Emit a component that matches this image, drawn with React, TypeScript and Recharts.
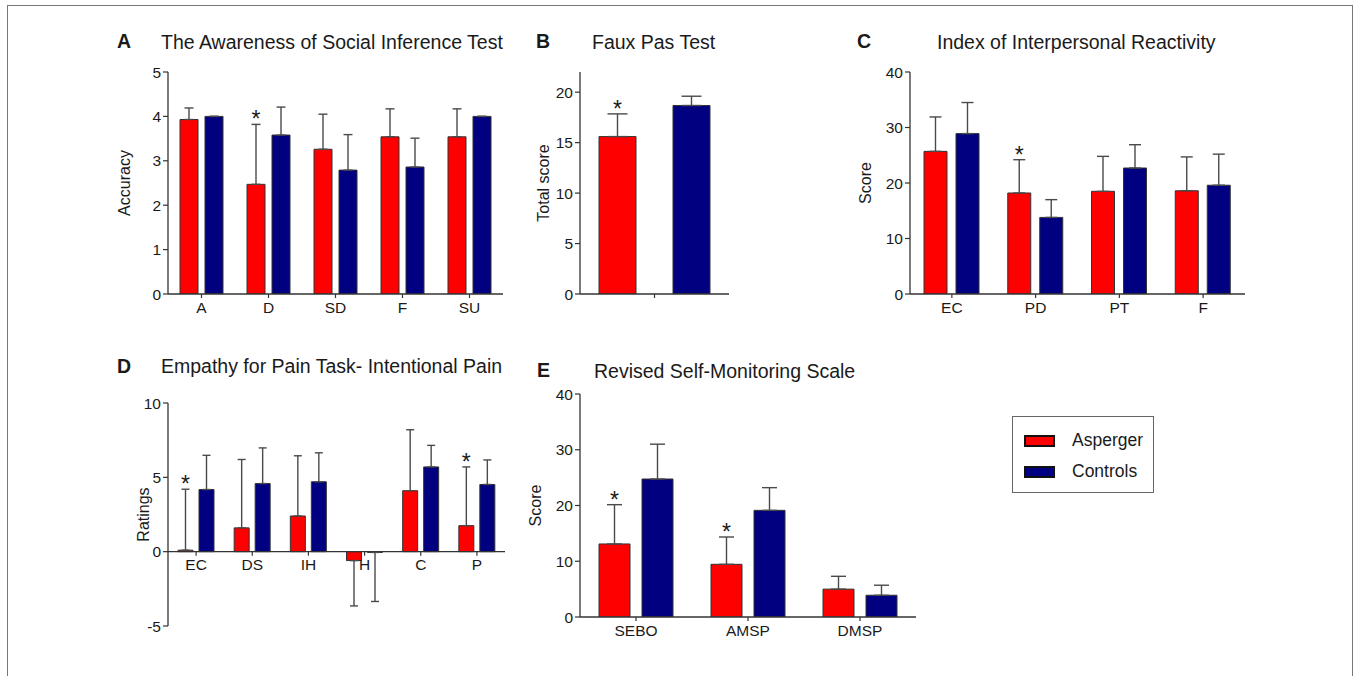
/** Five-panel questionnaire figure — Asperger vs Controls, mean with one-sided SD whiskers */
import { BarChart, Bar, XAxis, YAxis, ErrorBar, LabelList, ReferenceLine, Legend } from 'recharts'

const RED = '#ff0000'
const BLUE = '#000080'
const EDGE = '#333333'
const WHISKER = '#4a4a4a'
const INK = '#1a1a1a'
const FONT = '"Liberation Sans", Arial, Helvetica, sans-serif'

// A — The Awareness of Social Inference Test
const tasitCats = ['A', 'D', 'SD', 'F', 'SU']
const tasitAsp = [3.93, 2.47, 3.26, 3.54, 3.54]
const tasitAspSd = [0.26, 1.35, 0.79, 0.63, 0.63]
const tasitCtl = [4.0, 3.58, 2.79, 2.86, 4.0]
const tasitCtlSd = [0, 0.63, 0.8, 0.65, 0]
const tasitStars = [false, true, false, false, false]
const tasitTicks = [0, 1, 2, 3, 4, 5]

// B — Faux Pas Test
const fauxCats = ['']
const fauxAsp = [15.6]
const fauxAspSd = [2.25]
const fauxCtl = [18.68]
const fauxCtlSd = [0.92]
const fauxStars = [true]
const fauxTicks = [0, 5, 10, 15, 20]

// C — Index of Interpersonal Reactivity
const iriCats = ['EC', 'PD', 'PT', 'F']
const iriAsp = [25.7, 18.2, 18.5, 18.6]
const iriAspSd = [6.2, 6.0, 6.3, 6.1]
const iriCtl = [28.9, 13.8, 22.7, 19.6]
const iriCtlSd = [5.6, 3.2, 4.2, 5.6]
const iriStars = [false, true, false, false]
const iriTicks = [0, 10, 20, 30, 40]

// D — Empathy for Pain Task, intentional pain
const painCats = ['EC', 'DS', 'IH', 'H', 'C', 'P']
const painAsp = [0.1, 1.6, 2.4, -0.6, 4.1, 1.75]
const painAspSd = [4.1, 4.6, 4.05, 3.05, 4.1, 3.95]
const painCtl = [4.18, 4.58, 4.7, -0.05, 5.7, 4.52]
const painCtlSd = [2.3, 2.4, 1.95, 3.3, 1.45, 1.65]
const painStars = [true, false, false, false, false, true]
const painTicks = [-5, 0, 5, 10]

// E — Revised Self-Monitoring Scale
const rsmsCats = ['SEBO', 'AMSP', 'DMSP']
const rsmsAsp = [13.1, 9.45, 5.0]
const rsmsAspSd = [7.05, 4.9, 2.3]
const rsmsCtl = [24.75, 19.13, 3.9]
const rsmsCtlSd = [6.25, 4.07, 1.8]
const rsmsStars = [true, true, false]
const rsmsTicks = [0, 10, 20, 30, 40]

// whiskers go away from zero only
function whisker(mean: number, sd: number): [number, number] {
  return mean < 0 ? [sd, 0] : [0, sd]
}

function buildRows(cats: string[], asp: number[], aspSd: number[], ctl: number[], ctlSd: number[], stars: boolean[]) {
  return cats.map((cat, i) => ({
    cat,
    asp: asp[i],
    ctl: ctl[i],
    aspErr: whisker(asp[i], aspSd[i]),
    ctlErr: whisker(ctl[i], ctlSd[i]),
    star: stars[i] ? aspSd[i] : null,
  }))
}

const ML = 10
const YW = 55
const MT = 14
const MR = 14
const XH = 30
const MB = 6

const tickStyle = { fill: INK, fontSize: 15.5, fontFamily: FONT }

// eslint-disable-next-line @typescript-eslint/no-explicit-any
function Star(props: any) {
  const { x, y, width, value } = props
  if (value == null) return null
  return (
    <text x={x + width / 2} y={y + 3} textAnchor="middle" fontSize={23} fontFamily={FONT} fill={INK}>
      *
    </text>
  )
}

// category labels sitting on the zero line (panel D)
// eslint-disable-next-line @typescript-eslint/no-explicit-any
function ZeroTick(props: any) {
  const { x, payload, zeroY } = props
  return (
    <g>
      <line x1={x} x2={x} y1={zeroY} y2={zeroY + 4} stroke={EDGE} strokeWidth={1.2} />
      <text x={x} y={zeroY + 7} dy="0.71em" textAnchor="middle" {...tickStyle}>
        {payload.value}
      </text>
    </g>
  )
}

// eslint-disable-next-line @typescript-eslint/no-explicit-any
function LegendBox(props: any) {
  const items = (props.payload ?? []).filter((p: { type?: string }) => p.type !== 'none')
  return (
    <div style={{
      width: 142,
      height: 77,
      boxSizing: 'border-box',
      border: '1.5px solid #666',
      background: '#fff',
      paddingTop: 8,
      fontFamily: FONT,
    }}>
      {items.map((it: { value: string; color: string }) => (
        <div key={it.value} style={{ display: 'flex', alignItems: 'center', height: 31 }}>
          <span style={{
            display: 'inline-block',
            marginLeft: 11,
            width: 31,
            height: 12,
            boxSizing: 'border-box',
            background: it.color,
            border: '2px solid #111',
          }} />
          <span style={{ marginLeft: 17, fontSize: 17.5, color: INK }}>{it.value}</span>
        </div>
      ))}
    </div>
  )
}

type Plot = { x1: number; y1: number; x2: number; y2: number }

interface PanelProps {
  rows: ReturnType<typeof buildRows>
  plot: Plot
  domain: [number, number]
  ticks: number[]
  barSize: number
  barGap: number
  cap: number
  yLabel: string
  yLabelGap: number
  zeroAxis?: boolean
  extraRight?: number
  withLegend?: boolean
}

function Panel(p: PanelProps) {
  const right = MR + (p.extraRight ?? 0)
  const plotH = p.plot.y2 - p.plot.y1
  const w = ML + YW + (p.plot.x2 - p.plot.x1) + right
  const h = MT + plotH + XH + MB
  const zeroY = MT + (p.domain[1] / (p.domain[1] - p.domain[0])) * plotH

  return (
    <div style={{ position: 'absolute', left: p.plot.x1 - YW - ML, top: p.plot.y1 - MT }}>
      <BarChart
        width={w}
        height={h}
        data={p.rows}
        margin={{ top: MT, right, bottom: MB, left: ML }}
        barSize={p.barSize}
        barGap={p.barGap}
      >
        {p.zeroAxis ? (
          <XAxis
            dataKey="cat"
            height={XH}
            interval={0}
            axisLine={false}
            tickLine={false}
            tick={<ZeroTick zeroY={zeroY} />}
          />
        ) : (
          <XAxis
            dataKey="cat"
            height={XH}
            interval={0}
            tickSize={4}
            tickMargin={4}
            axisLine={{ stroke: EDGE, strokeWidth: 1.3 }}
            tickLine={{ stroke: EDGE, strokeWidth: 1.2 }}
            tick={tickStyle}
          />
        )}
        <YAxis
          type="number"
          width={YW}
          domain={p.domain}
          ticks={p.ticks}
          interval={0}
          allowDataOverflow
          tickSize={5}
          tickMargin={2}
          axisLine={{ stroke: EDGE, strokeWidth: 1.3 }}
          tickLine={{ stroke: EDGE, strokeWidth: 1.2 }}
          tick={tickStyle}
          label={{
            value: p.yLabel,
            angle: -90,
            position: 'insideLeft',
            offset: YW - p.yLabelGap,
            style: { textAnchor: 'middle', fill: INK, fontSize: 16, fontFamily: FONT },
          }}
        />
        {p.zeroAxis && <ReferenceLine y={0} stroke={EDGE} strokeWidth={1.3} />}
        <Bar dataKey="asp" name="Asperger" stackId="asp" fill={RED} stroke={EDGE} strokeWidth={1} isAnimationActive={false}>
          <ErrorBar dataKey="aspErr" width={p.cap} stroke={WHISKER} strokeWidth={1.4} direction="y" />
        </Bar>
        <Bar dataKey="star" stackId="asp" fill="transparent" stroke="none" legendType="none" isAnimationActive={false}>
          <LabelList dataKey="star" content={<Star />} />
        </Bar>
        <Bar dataKey="ctl" name="Controls" fill={BLUE} stroke={EDGE} strokeWidth={1} isAnimationActive={false}>
          <ErrorBar dataKey="ctlErr" width={p.cap} stroke={WHISKER} strokeWidth={1.4} direction="y" />
        </Bar>
        {p.withLegend && (
          <Legend
            layout="vertical"
            align="center"
            verticalAlign="middle"
            content={<LegendBox />}
            wrapperStyle={{ left: 497, top: 36, width: 142, height: 77 }}
          />
        )}
      </BarChart>
    </div>
  )
}

function Heading({ letter, title, lx, tx, top }: { letter: string; title: string; lx: number; tx: number; top: number }) {
  const base = { position: 'absolute' as const, top, fontFamily: FONT, color: INK, lineHeight: '19px', fontSize: 19.5, whiteSpace: 'nowrap' as const }
  return (
    <>
      <div style={{ ...base, left: lx, top: top - 0.5, fontWeight: 700 }}>{letter}</div>
      <div style={{ ...base, left: tx }}>{title}</div>
    </>
  )
}

export default function App() {
  return (
    <div style={{ position: 'absolute', left: 0, top: 0, width: 1356, height: 676, overflow: 'hidden', background: '#fff' }}>
      <div style={{ position: 'absolute', left: 7, top: 5, width: 1346, height: 720, border: '1.5px solid #777', boxSizing: 'border-box' }} />

      <Heading letter="A" title="The Awareness of Social Inference Test" lx={117} tx={161} top={32.5} />
      <Heading letter="B" title="Faux Pas Test" lx={536} tx={592} top={32.5} />
      <Heading letter="C" title="Index of Interpersonal Reactivity" lx={857} tx={937} top={32.5} />
      <Heading letter="D" title="Empathy for Pain Task- Intentional Pain" lx={117} tx={161} top={357} />
      <Heading letter="E" title="Revised Self-Monitoring Scale" lx={537} tx={594} top={361.5} />

      <Panel
        rows={buildRows(tasitCats, tasitAsp, tasitAspSd, tasitCtl, tasitCtlSd, tasitStars)}
        plot={{ x1: 168, y1: 72, x2: 503, y2: 294 }}
        domain={[0, 5]}
        ticks={tasitTicks}
        barSize={18}
        barGap={7}
        cap={4.5}
        yLabel="Accuracy"
        yLabelGap={43.5}
      />
      <Panel
        rows={buildRows(fauxCats, fauxAsp, fauxAspSd, fauxCtl, fauxCtlSd, fauxStars)}
        plot={{ x1: 580, y1: 72, x2: 729, y2: 294 }}
        domain={[0, 22]}
        ticks={fauxTicks}
        barSize={37}
        barGap={37}
        cap={10}
        yLabel="Total score"
        yLabelGap={37}
      />
      <Panel
        rows={buildRows(iriCats, iriAsp, iriAspSd, iriCtl, iriCtlSd, iriStars)}
        plot={{ x1: 910, y1: 72, x2: 1245, y2: 294 }}
        domain={[0, 40]}
        ticks={iriTicks}
        barSize={23}
        barGap={9}
        cap={6}
        yLabel="Score"
        yLabelGap={45}
      />
      <Panel
        rows={buildRows(painCats, painAsp, painAspSd, painCtl, painCtlSd, painStars)}
        plot={{ x1: 168, y1: 403, x2: 505, y2: 626 }}
        domain={[-5, 10]}
        ticks={painTicks}
        barSize={15}
        barGap={6}
        cap={4}
        yLabel="Ratings"
        yLabelGap={25}
        zeroAxis
      />
      <Panel
        rows={buildRows(rsmsCats, rsmsAsp, rsmsAspSd, rsmsCtl, rsmsCtlSd, rsmsStars)}
        plot={{ x1: 580, y1: 394, x2: 916, y2: 617 }}
        domain={[0, 40]}
        ticks={rsmsTicks}
        barSize={31}
        barGap={12}
        cap={7.5}
        yLabel="Score"
        yLabelGap={45}
        extraRight={250}
        withLegend
      />
    </div>
  )
}
